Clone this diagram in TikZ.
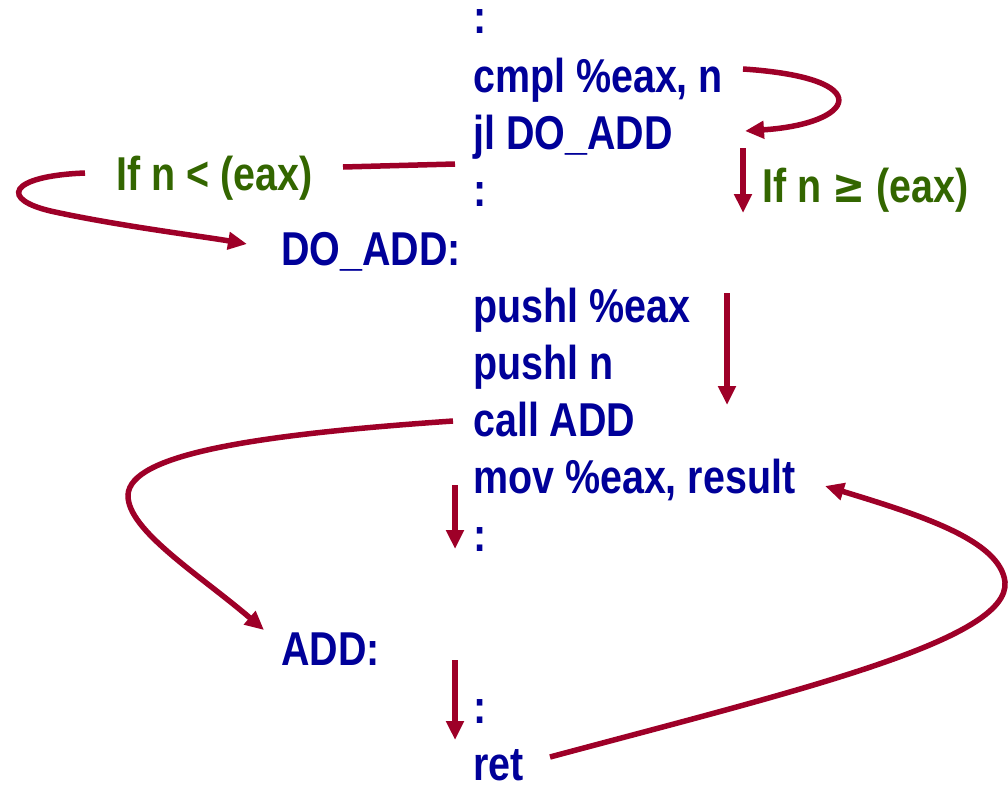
\documentclass[tikz,border=0pt]{standalone}
\usepackage{fontspec}
\setmainfont{Liberation Sans}
\newfontfamily\codefont{Liberation Sans}[FakeStretch=0.83]
\newfontfamily\symfont{DejaVu Sans}[FakeStretch=0.83]
\usetikzlibrary{arrows.meta}
\definecolor{codeblue}{RGB}{0,0,153}
\definecolor{condgreen}{RGB}{51,102,0}
\definecolor{flowred}{RGB}{158,0,40}
\begin{document}
\begin{tikzpicture}[x=1pt,y=-1pt,
  code/.style={anchor=base west,inner sep=0pt,text=codeblue,
    font=\codefont\bfseries\fontsize{47.5}{57}\selectfont},
  cond/.style={code,text=condgreen},
  flow/.style={draw=flowred,line width=5.5pt,
    -{Triangle[length=19pt,width=17pt]}},
  plain/.style={draw=flowred,line width=5.5pt},
  down/.style={flow,line width=6pt}]
\useasboundingbox (0,0) rectangle (1008,784);

% listing of the caller
\node[code] (dots0) at (473,34)  {:};
\node[code] (cmpl)  at (473,92)  {cmpl \%eax, n};
\node[code] (jl)    at (473,149) {jl DO\_ADD};
\node[code] (dots1) at (473,206) {:};
\node[code] (doadd) at (281,265) {DO\_ADD:};
\node[code] (push1) at (473,322) {pushl \%eax};
\node[code] (push2) at (473,379) {pushl n};
\node[code] (call)  at (473,436) {call ADD};
\node[code] (mov)   at (473,493) {mov \%eax, result};
\node[code] (dots2) at (473,551) {:};
% the called routine
\node[code] (add)   at (281,665) {ADD:};
\node[code] (dots3) at (473,723) {:};
\node[code] (ret)   at (473,780) {ret};

% branch conditions
\node[cond] (less) at (116,190) {If n < (eax)};
\node[cond] (geq)  at (762,202) {If n {\symfont\bfseries ≥} (eax)};

% end points of the connectors
\coordinate (cmplR)  at (743,69);
\coordinate (jlR)    at (745,131);
\coordinate (jlL)    at (455,164);
\coordinate (lessR)  at (343,167);
\coordinate (lessL)  at (85,173);
\coordinate (doaddL) at (247,244);
\coordinate (callL)  at (453,421);
\coordinate (addL)   at (264,630);
\coordinate (retR)   at (550,757);
\coordinate (movR)   at (825,486);

% compare, then jump
\draw[flow] (cmplR) .. controls (880,78) and (855,124) .. (jlR);
\draw[down] (743,148) -- (743,213);
\draw[plain] (jlL) -- (lessR);
\draw[flow] (lessL) .. controls (8,176) and (-2,200) .. (55,212)
  .. controls (120,226) and (200,236) .. (doaddL);

% fall through the pushes
\draw[down] (727,293) -- (727,405);

% call and return
\draw[flow] (callL) .. controls (250,435) and (130,455) .. (128,495)
  .. controls (127,530) and (200,575) .. (addL);
\draw[down] (455,485) -- (455,549);
\draw[down] (455,660) -- (455,740);
\draw[flow] (retR) .. controls (800,690) and (1010,640) .. (1005,582)
  .. controls (1000,540) and (920,515) .. (movR);
\end{tikzpicture}
\end{document}
